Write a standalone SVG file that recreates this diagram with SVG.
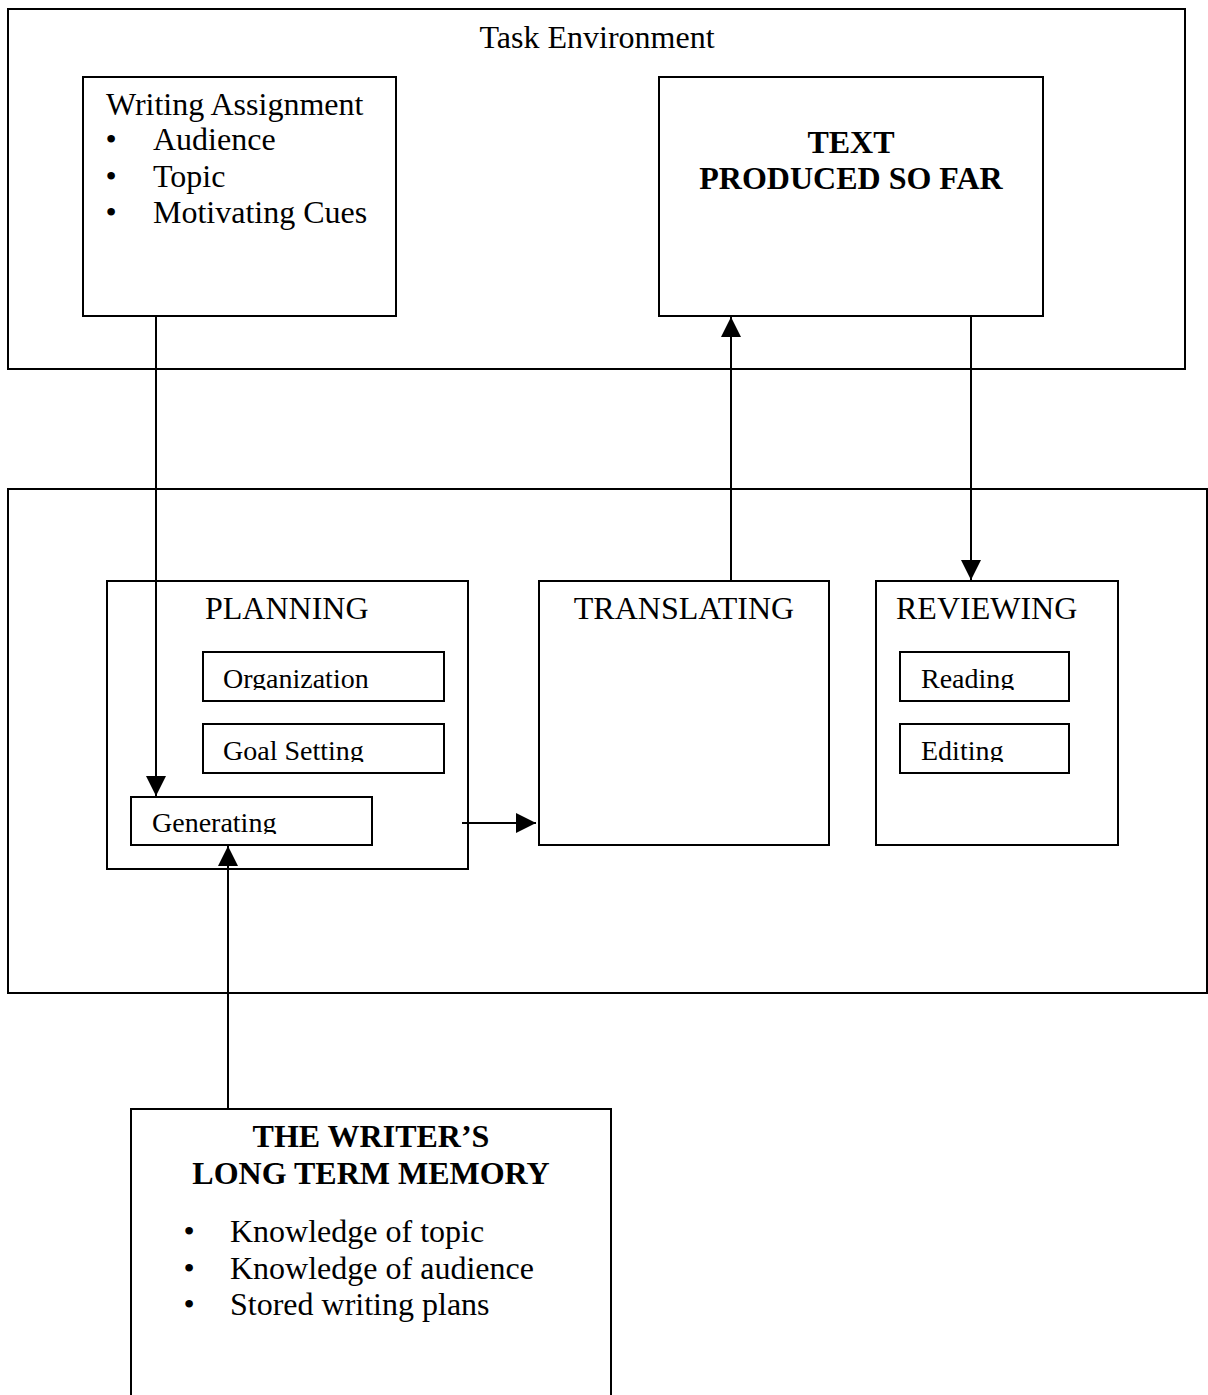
<svg xmlns="http://www.w3.org/2000/svg" width="1208" height="1395" viewBox="0 0 1208 1395">
<style>
rect{fill:none;stroke:#000;stroke-width:2}
.t{font-family:"Liberation Serif","Times New Roman",serif;font-size:32px;fill:#000}
.s{font-family:"Liberation Serif","Times New Roman",serif;font-size:28px;fill:#000}
.b{font-weight:bold}
.m{text-anchor:middle}
.c{stroke:#000;stroke-width:2;fill:none}
</style>
<defs>
<marker id="ah" viewBox="0 0 20 20" refX="20" refY="10" markerWidth="20" markerHeight="20" markerUnits="userSpaceOnUse" orient="auto">
<path d="M0,0 L20,10 L0,20 Z" fill="#000"/>
</marker>
<clipPath id="cOrg"><rect x="200" y="650" width="250" height="40"/></clipPath>
<clipPath id="cGoal"><rect x="200" y="722" width="250" height="40"/></clipPath>
<clipPath id="cGen"><rect x="128" y="795" width="250" height="39"/></clipPath>
<clipPath id="cRead"><rect x="897" y="650" width="180" height="40"/></clipPath>
<clipPath id="cEdit"><rect x="897" y="722" width="180" height="40"/></clipPath>
</defs>
<rect x="0" y="0" width="1208" height="1395" style="fill:#fff;stroke:none"/>

<g id="task-environment">
<rect x="8" y="9" width="1177" height="360"/>
<text class="t m" x="597" y="48">Task Environment</text>
</g>

<g id="writing-assignment">
<rect x="83" y="77" width="313" height="239"/>
<text class="t" x="106" y="115">Writing Assignment</text>
<text class="t m" x="111" y="150">•</text><text class="t" x="153" y="150">Audience</text>
<text class="t m" x="111" y="187">•</text><text class="t" x="153" y="187">Topic</text>
<text class="t m" x="111" y="223">•</text><text class="t" x="153" y="223">Motivating Cues</text>
</g>

<g id="text-produced">
<rect x="659" y="77" width="384" height="239"/>
<text class="t b m" x="851" y="153">TEXT</text>
<text class="t b m" x="851" y="189">PRODUCED SO FAR</text>
</g>

<g id="writing-process">
<rect x="8" y="489" width="1199" height="504"/>
</g>

<g id="planning">
<rect x="107" y="581" width="361" height="288"/>
<text class="t" x="205" y="619">PLANNING</text>
</g>

<g id="organization">
<rect x="203" y="652" width="241" height="49"/>
<text class="s" x="223" y="688" clip-path="url(#cOrg)">Organization</text>
</g>

<g id="goal-setting">
<rect x="203" y="724" width="241" height="49"/>
<text class="s" x="223" y="760" clip-path="url(#cGoal)">Goal Setting</text>
</g>

<g id="generating">
<rect x="131" y="797" width="241" height="48"/>
<text class="s" x="152" y="832" clip-path="url(#cGen)">Generating</text>
</g>

<g id="translating">
<rect x="539" y="581" width="290" height="264"/>
<text class="t m" x="684" y="619">TRANSLATING</text>
</g>

<g id="reviewing">
<rect x="876" y="581" width="242" height="264"/>
<text class="t" x="896" y="619">REVIEWING</text>
</g>

<g id="reading">
<rect x="900" y="652" width="169" height="49"/>
<text class="s" x="921" y="688" clip-path="url(#cRead)">Reading</text>
</g>

<g id="editing">
<rect x="900" y="724" width="169" height="49"/>
<text class="s" x="921" y="760" clip-path="url(#cEdit)">Editing</text>
</g>

<g id="long-term-memory">
<rect x="131" y="1109" width="480" height="300"/>
<text class="t b m" x="371" y="1147">THE WRITER’S</text>
<text class="t b m" x="371" y="1184">LONG TERM MEMORY</text>
<text class="t m" x="189" y="1242">•</text><text class="t" x="230" y="1242">Knowledge of topic</text>
<text class="t m" x="189" y="1279">•</text><text class="t" x="230" y="1279">Knowledge of audience</text>
<text class="t m" x="189" y="1315">•</text><text class="t" x="230" y="1315">Stored writing plans</text>
</g>

<g id="connectors">
<line class="c" x1="156" y1="316" x2="156" y2="796" marker-end="url(#ah)"/>
<line class="c" x1="731" y1="581" x2="731" y2="317" marker-end="url(#ah)"/>
<line class="c" x1="971" y1="316" x2="971" y2="580" marker-end="url(#ah)"/>
<line class="c" x1="462" y1="823" x2="536" y2="823" marker-end="url(#ah)"/>
<line class="c" x1="228" y1="1109" x2="228" y2="846" marker-end="url(#ah)"/>
</g>
</svg>
